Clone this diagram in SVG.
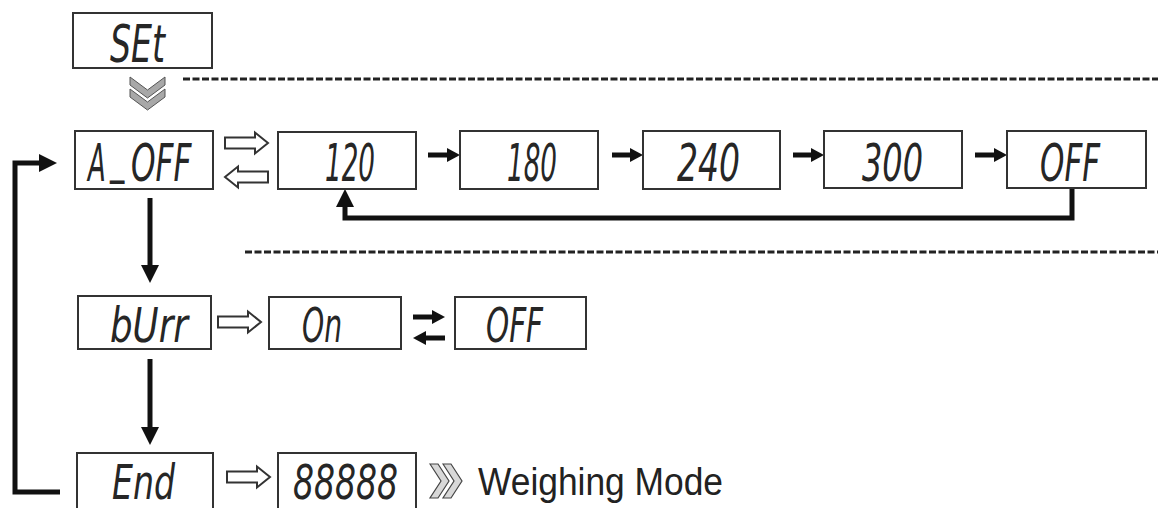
<svg xmlns="http://www.w3.org/2000/svg" width="1158" height="508" viewBox="0 0 1158 508">
<defs>
<style>
.box{fill:#fff;stroke:#333;stroke-width:2}
.seg{font-family:"DejaVu Sans","Liberation Sans",sans-serif;font-style:oblique;font-weight:300;fill:#262626;font-size:52px}
.seg2{font-size:48px}
.ln{fill:none;stroke:#111;stroke-width:5}
.dash{fill:none;stroke:#222;stroke-width:3;stroke-dasharray:7 2.5}
.hollow{fill:#fff;stroke:#333;stroke-width:2}
.chev{fill:#a8a8a8;stroke:#555;stroke-width:1}
.chev2{fill:#d8d8d8;stroke:#444;stroke-width:1.2}
.lbl{font-family:"Liberation Sans",Arial,sans-serif;font-size:38px;fill:#222}
</style>
<marker id="ah" markerUnits="userSpaceOnUse" markerWidth="18" markerHeight="18" refX="1" refY="9" orient="auto">
<path d="M0,0 L18,9 L0,18 Z" fill="#111"/>
</marker>
<marker id="as" markerUnits="userSpaceOnUse" markerWidth="13" markerHeight="14" refX="1" refY="7" orient="auto">
<path d="M0,0 L13,7 L0,14 Z" fill="#111"/>
</marker>
<path id="harrow" d="M0,-5.5 H30 V-10.5 L43,0 L30,10.5 V5.5 H0 Z"/>
</defs>
<rect width="1158" height="508" fill="#fff"/>

<g id="separators">
<path class="dash" d="M183,79 H1158"/>
<path class="dash" d="M245,252 H1158"/>
</g>

<g id="connectors">
<path class="ln" d="M60,492 H15 V163 H40" marker-end="url(#ah)"/>
<path class="ln" d="M150,198 V266" marker-end="url(#ah)"/>
<path class="ln" d="M150,359 V428" marker-end="url(#ah)"/>
<path class="ln" d="M1072,189 V218 H345 V206" marker-end="url(#ah)"/>
<path class="ln" d="M428,155 H448" marker-end="url(#as)"/>
<path class="ln" d="M612,155 H631" marker-end="url(#as)"/>
<path class="ln" d="M793,155 H812" marker-end="url(#as)"/>
<path class="ln" d="M975,155 H995" marker-end="url(#as)"/>
<path class="ln" d="M413,317 H433" marker-end="url(#as)"/>
<path class="ln" d="M445,338 H425" marker-end="url(#as)"/>
<use href="#harrow" class="hollow" transform="translate(225,143)"/>
<use href="#harrow" class="hollow" transform="translate(268,177) scale(-1,1)"/>
<use href="#harrow" class="hollow" transform="translate(218,322)"/>
<use href="#harrow" class="hollow" transform="translate(227,477)"/>
<g id="chevron-down">
<path class="chev" d="M130,77 L147.5,90 L165,77 L165,85 L147.5,98 L130,85 Z"/>
<path class="chev" d="M130,89 L147.5,102 L165,89 L165,97 L147.5,110 L130,97 Z"/>
</g>
<g id="chevron-right">
<path class="chev2" d="M430,464 L441,481 L430,498 L438,498 L449,481 L438,464 Z"/>
<path class="chev2" d="M443,464 L454,481 L443,498 L451,498 L462,481 L451,464 Z"/>
</g>
</g>

<g id="set"><rect class="box" x="73" y="13" width="139" height="55"/><text class="seg" x="110" y="62" textLength="55" lengthAdjust="spacingAndGlyphs">SEt</text></g>
<g id="a_off"><rect class="box" x="75" y="131" width="138" height="58"/>
<text class="seg" transform="translate(88,181) scale(0.5,1)">A</text>
<text class="seg" transform="translate(110,172) scale(0.55,1)">_</text>
<text class="seg" transform="translate(131,181) scale(0.6,1)">OFF</text></g>
<g id="t120"><rect class="box" x="278" y="132" width="138" height="57"/><text class="seg" x="325" y="181" textLength="50" lengthAdjust="spacingAndGlyphs">120</text></g>
<g id="t180"><rect class="box" x="460" y="131" width="138" height="58"/><text class="seg" x="507" y="181" textLength="50" lengthAdjust="spacingAndGlyphs">180</text></g>
<g id="t240"><rect class="box" x="643" y="131" width="137" height="58"/><text class="seg" x="677" y="181" textLength="63" lengthAdjust="spacingAndGlyphs">240</text></g>
<g id="t300"><rect class="box" x="824" y="131" width="138" height="57"/><text class="seg" x="862" y="181" textLength="61" lengthAdjust="spacingAndGlyphs">300</text></g>
<g id="toff"><rect class="box" x="1007" y="131" width="139" height="57"/><text class="seg" x="1040" y="181" textLength="60" lengthAdjust="spacingAndGlyphs">OFF</text></g>
<g id="burr"><rect class="box" x="78" y="296" width="133" height="53"/><text class="seg seg2" x="110" y="342" textLength="78" lengthAdjust="spacingAndGlyphs">bUrr</text></g>
<g id="on"><rect class="box" x="269" y="297" width="132" height="52"/><text class="seg seg2" x="302" y="342" textLength="40" lengthAdjust="spacingAndGlyphs">On</text></g>
<g id="off2"><rect class="box" x="455" y="297" width="131" height="52"/><text class="seg seg2" x="486" y="342" textLength="57" lengthAdjust="spacingAndGlyphs">OFF</text></g>
<g id="end"><rect class="box" x="77" y="453" width="136" height="60"/><text class="seg seg2" x="112" y="499" textLength="63" lengthAdjust="spacingAndGlyphs">End</text></g>
<g id="d88888"><rect class="box" x="278" y="453" width="138" height="60"/><text class="seg seg2" x="293" y="499" textLength="105" lengthAdjust="spacingAndGlyphs">88888</text></g>
<g id="weighing"><text class="lbl" x="478" y="495" textLength="245" lengthAdjust="spacingAndGlyphs">Weighing Mode</text></g>
</svg>
